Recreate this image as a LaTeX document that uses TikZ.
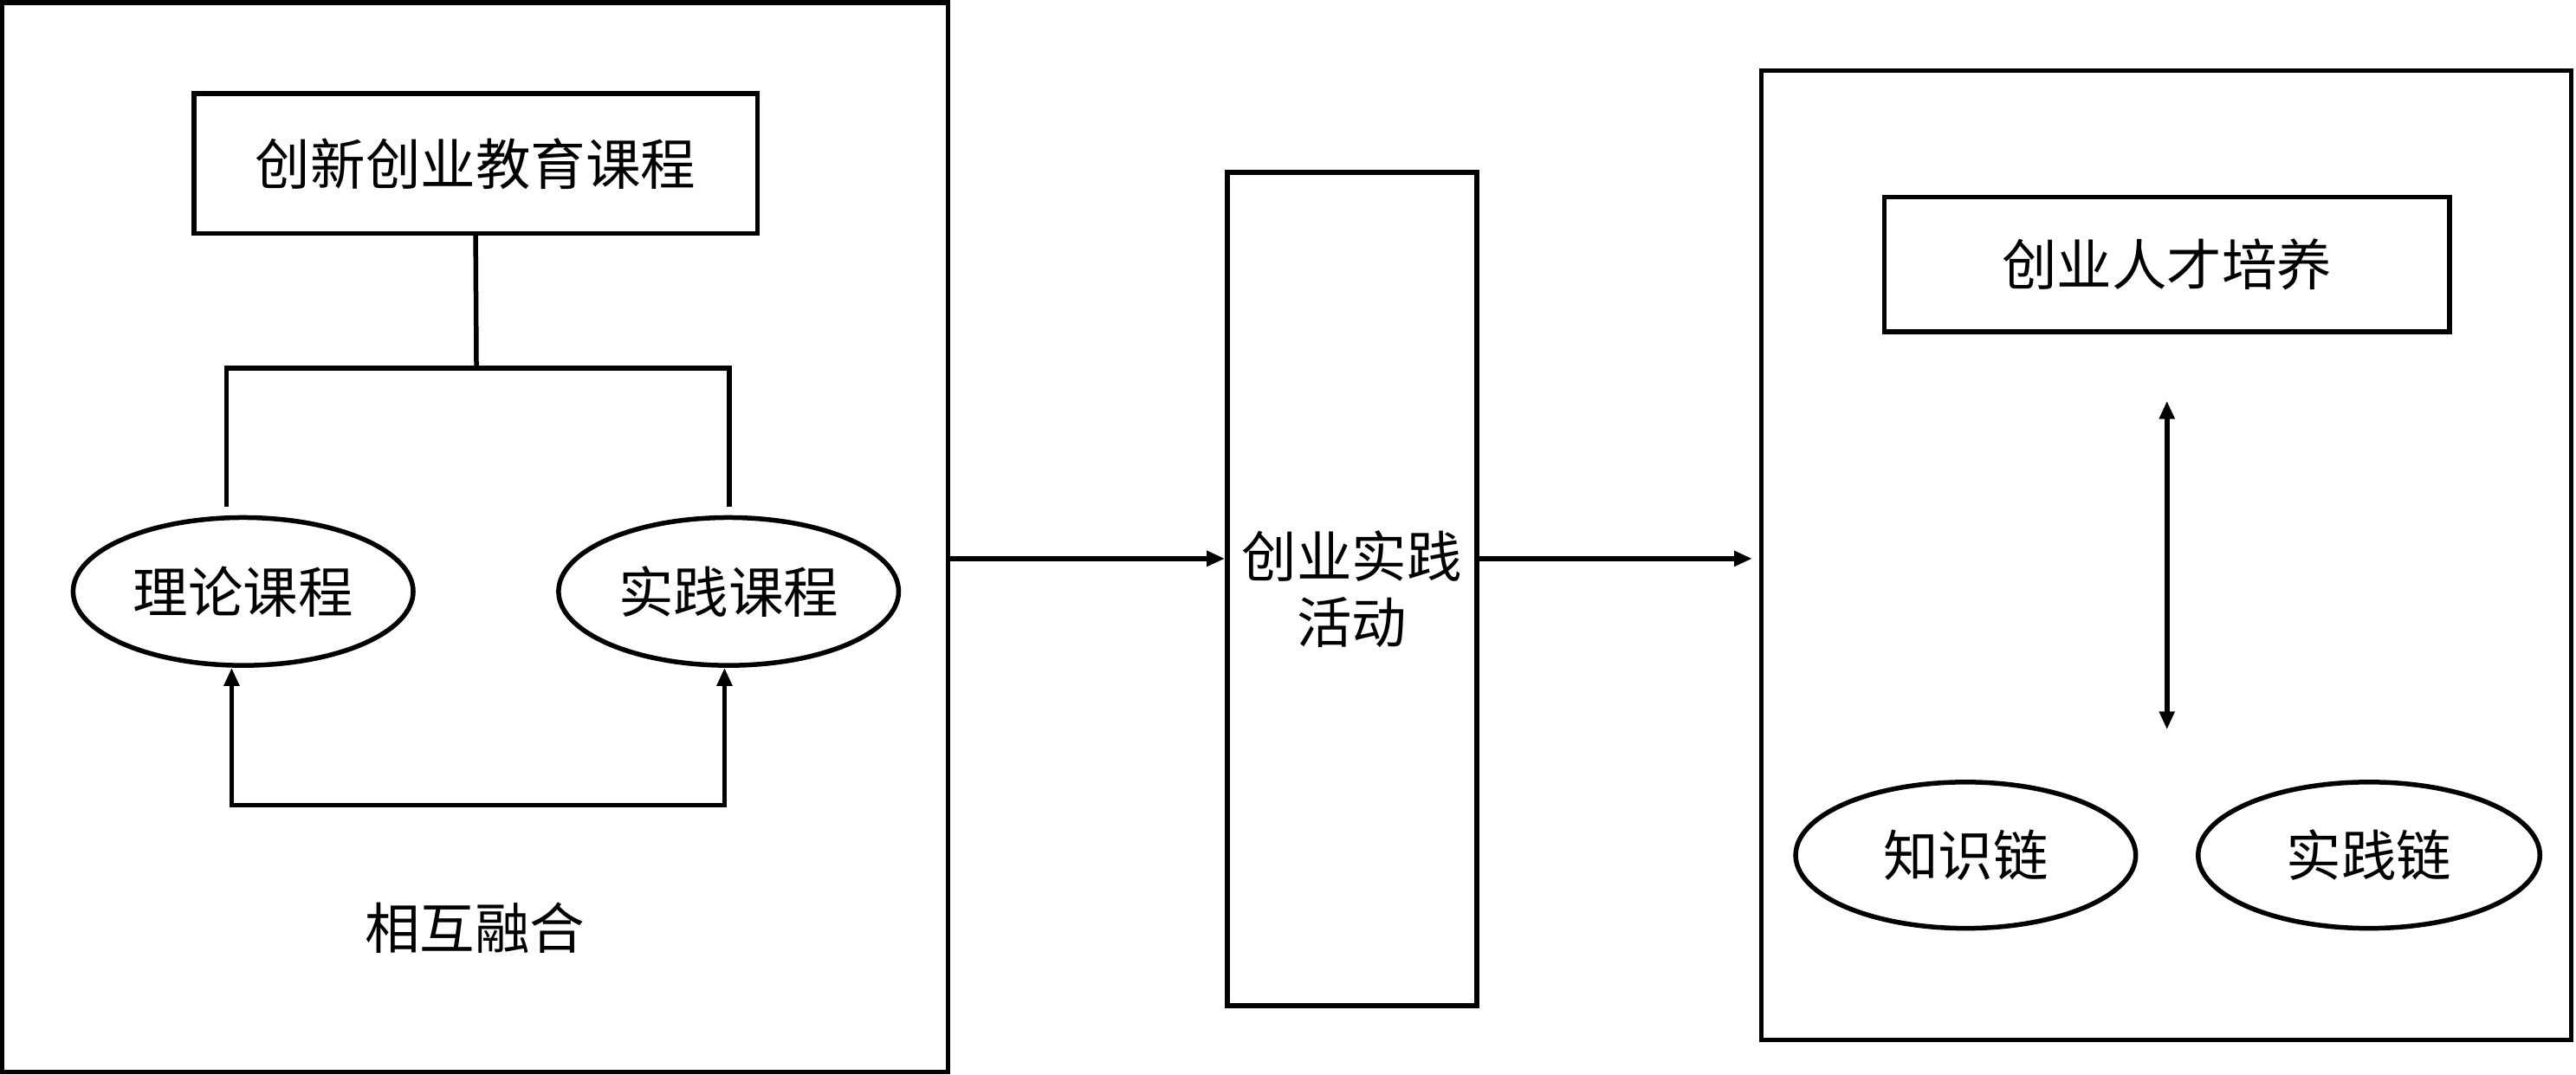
\documentclass[tikz,border=0pt]{standalone}
\usepackage{fontspec}
\usepackage{tikz}
\usetikzlibrary{arrows.meta,shapes.geometric}
\newfontfamily\cjk{Noto Sans CJK SC}

\begin{document}
\begin{tikzpicture}[x=1pt,y=-1pt,line width=2.9pt,
        box/.style={draw=black,rectangle},
        oval/.style={draw=black,ellipse,minimum width=207pt,minimum height=90pt},
        arr/.style={-{Triangle[length=11pt,width=9pt]}},
        dbl/.style={{Triangle[length=11pt,width=9pt]}-{Triangle[length=11pt,width=9pt]}},
        every node/.append style={font=\cjk\fontsize{33.5}{40}\selectfont}]
        \tikzstyle{every node}+=[inner sep=0pt]
        \useasboundingbox (0,0) rectangle (1568,654);
        \node [box,minimum width=575.6pt,minimum height=651pt] (fuse) at (289.2,327) {};
        \node [box,minimum width=343pt,minimum height=85pt] (course) at (289.5,99.5) {创新创业教育课程};
        \node [oval] (theory) at (148,360) {理论课程};
        \node [oval] (practice) at (443.5,360) {实践课程};
        \node (merge) at (289,565) {相互融合};
        \node [box,minimum width=152pt,minimum height=507pt,align=center] (act) at (823,358.5) {创业实践\\活动};
        \node [box,minimum width=493pt,minimum height=590pt] (talent) at (1318.5,338) {};
        \node [box,minimum width=344pt,minimum height=82pt] (train) at (1319,161) {创业人才培养};
        \node [oval,minimum height=89pt] (know) at (1196.5,520.5) {知识链};
        \node [oval,minimum width=208pt,minimum height=89pt] (chain) at (1442,520.5) {实践链};
        \coordinate (split) at (290,224);
        \coordinate (splitL) at (138,224);
        \coordinate (splitR) at (444,224);
        \coordinate (mixL) at (141,490);
        \coordinate (mixR) at (441,490);
        \coordinate (flow) at (0,340);
        \coordinate (up) at (1319,244);
        \coordinate (dn) at (1319,444);
        \draw [black] (course.south) -- (split);
        \draw [black,shorten <=5pt,shorten >=5pt] (splitL |- theory.north) -- (splitL) -- (splitR) -- (splitR |- practice.north);
        \draw [black,dbl] (mixL |- theory.south) -- (mixL) -- (mixR) -- (mixR |- practice.south);
        \draw [black,arr] (fuse.east |- flow) -- (act.west |- flow);
        \draw [black,arr,shorten >=4pt] (act.east |- flow) -- (talent.west |- flow);
        \draw [black,dbl] (up) -- (dn);
\end{tikzpicture}
\end{document}
